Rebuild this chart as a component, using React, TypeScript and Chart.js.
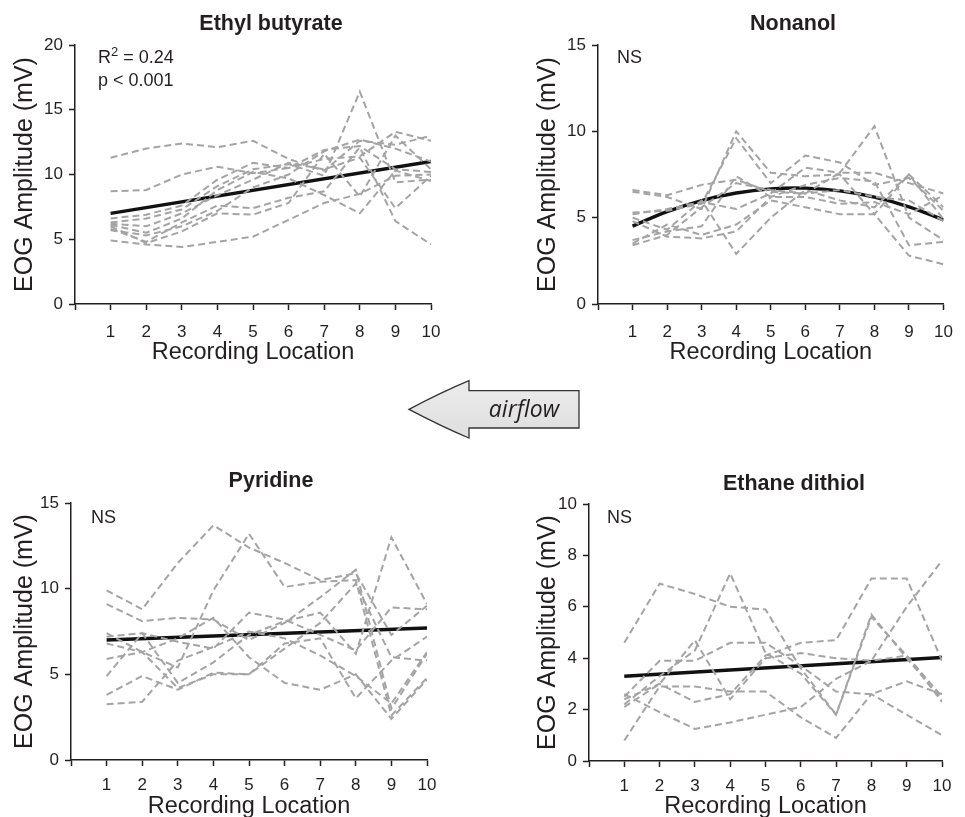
import React, { useEffect, useRef } from "react";
import { Chart, registerables } from "chart.js";

Chart.register(...registerables);

// ---------- data ----------
const LOCATIONS = [1, 2, 3, 4, 5, 6, 7, 8, 9, 10];
const X_TICKS = [0, 1, 2, 3, 4, 5, 6, 7, 8, 9, 10];
const X_TICK_LABELS = ["", "1", "2", "3", "4", "5", "6", "7", "8", "9", "10"];
const FIT_ENDS = [1, 10];

const ETHYL_Y_TICKS = [0, 5, 10, 15, 20];
const NONANOL_Y_TICKS = [0, 5, 10, 15];
const PYRIDINE_Y_TICKS = [0, 5, 10, 15];
const DITHIOL_Y_TICKS = [0, 2, 4, 6, 8, 10];

const ETHYL_BUTYRATE_RUNS = [
  [11.3, 12.0, 12.4, 12.1, 12.6, 11.2, 10.3, 12.6, 12.3, 13.0],
  [8.7, 8.8, 10.0, 10.6, 10.1, 10.5, 11.9, 12.2, 10.4, 10.2],
  [6.6, 6.9, 7.6, 9.6, 10.9, 10.5, 11.2, 11.4, 13.3, 12.6],
  [6.3, 6.6, 7.3, 9.1, 10.4, 10.8, 9.9, 16.4, 9.4, 9.6],
  [5.8, 4.8, 6.3, 7.6, 7.4, 8.2, 8.7, 12.1, 6.4, 4.6],
  [6.0, 4.7, 5.6, 7.0, 6.9, 7.8, 11.6, 8.3, 13.0, 10.4],
  [4.9, 4.6, 4.4, 4.8, 5.2, 6.5, 7.8, 8.5, 9.9, 10.0],
  [6.2, 6.0, 7.0, 8.4, 9.6, 10.9, 10.4, 11.3, 7.4, 9.9],
  [6.1, 5.5, 6.6, 8.8, 10.2, 9.7, 8.4, 7.0, 10.3, 9.5],
  [5.7, 5.3, 6.0, 7.2, 9.0, 10.0, 11.8, 12.7, 12.0, 11.0],
];
const ETHYL_BUTYRATE_FIT = [7.0, 11.0];

const NONANOL_RUNS = [
  [6.6, 6.3, 6.9, 7.2, 6.5, 6.4, 7.6, 7.6, 7.0, 6.4],
  [6.5, 6.2, 5.5, 10.0, 7.6, 7.4, 7.5, 5.2, 7.5, 5.6],
  [5.3, 5.4, 5.8, 9.6, 7.0, 8.6, 8.2, 6.9, 7.3, 5.4],
  [5.2, 5.5, 5.9, 5.5, 6.4, 7.9, 7.6, 10.3, 5.0, 3.7],
  [5.0, 4.3, 6.0, 2.9, 5.0, 6.6, 6.0, 5.6, 7.5, 4.9],
  [4.8, 3.9, 3.8, 4.2, 6.2, 6.9, 7.3, 7.1, 3.4, 3.6],
  [3.7, 4.2, 4.5, 7.4, 6.2, 6.2, 5.8, 5.9, 5.2, 6.3],
  [3.5, 4.6, 4.0, 4.6, 6.0, 5.6, 5.2, 5.2, 2.8, 2.3],
  [3.4, 4.0, 5.6, 7.0, 6.6, 6.4, 6.6, 6.2, 6.0, 4.8],
];
const NONANOL_FIT = [4.51, 5.35, 5.99, 6.43, 6.67, 6.71, 6.55, 6.19, 5.63, 4.87];

const PYRIDINE_RUNS = [
  [9.9, 8.8, 11.5, 13.7, 12.4, 11.5, 10.5, 10.9, 7.3, 9.0],
  [7.4, 6.3, 5.4, 9.9, 13.2, 10.1, 10.4, 10.5, 2.6, 4.8],
  [9.1, 8.1, 8.3, 8.2, 7.0, 8.0, 9.5, 11.1, 3.0, 6.2],
  [7.2, 7.4, 6.9, 6.5, 8.6, 8.2, 7.3, 6.4, 8.9, 8.8],
  [6.8, 6.3, 7.1, 8.3, 6.0, 4.5, 4.1, 5.0, 2.4, 4.7],
  [5.9, 6.3, 4.2, 5.0, 5.0, 6.5, 8.0, 10.3, 6.0, 5.8],
  [4.9, 7.4, 4.5, 5.7, 7.3, 8.1, 8.6, 6.2, 13.0, 9.1],
  [3.8, 4.9, 4.1, 5.1, 5.0, 6.8, 7.1, 3.6, 5.8, 7.2],
  [3.25, 3.4, 5.8, 6.6, 7.5, 7.1, 6.1, 4.9, 3.3, 6.3],
];
const PYRIDINE_FIT = [7.0, 7.7];

const DITHIOL_RUNS = [
  [4.6, 6.9, 6.5, 6.0, 5.9, 3.6, 1.8, 5.6, 4.1, 2.5],
  [2.1, 3.0, 4.7, 2.4, 4.0, 4.2, 4.0, 3.9, 6.0, 7.8],
  [2.2, 3.3, 4.3, 7.3, 4.2, 3.4, 1.8, 5.7, 4.0, 2.4],
  [2.5, 3.9, 3.9, 4.6, 4.6, 3.7, 2.7, 2.6, 3.1, 2.6],
  [2.4, 3.0, 2.3, 2.6, 4.1, 4.6, 4.7, 7.1, 7.1, 3.9],
  [0.8, 2.9, 2.9, 2.7, 2.7, 1.7, 0.9, 2.6, 1.8, 1.0],
  [2.6, 1.9, 1.25, 1.5, 1.8, 2.1, 3.2, 3.9, 4.1, 2.3],
];
const DITHIOL_FIT = [3.3, 4.03];

// ---------- style ----------
const INK = "#231f20";
const GRAY = "#a4a4a4";
const FONT = "'Liberation Sans', Arial, Helvetica, sans-serif";

type PanelProps = {
  left: number;
  top: number;
  width: number;
  height: number;
  pad: { top: number; right: number; bottom: number; left: number };
  yWidth: number;
  xHeight: number;
  yMax: number;
  yTicks: number[];
  runs: number[][];
  fitX: number[];
  fitY: number[];
  fitTension: number;
  yTitlePad: number;
  xTitlePad: number;
  xTickPad: number;
};

function Panel(p: PanelProps) {
  const ref = useRef<HTMLCanvasElement>(null);
  useEffect(() => {
    if (!ref.current) return;
    const datasets: any[] = p.runs.map((run) => ({
      data: run.map((v, i) => ({ x: LOCATIONS[i], y: v })),
      borderColor: GRAY,
      borderWidth: 2,
      borderDash: [7, 4],
      pointRadius: 0,
      tension: 0,
      fill: false,
    }));
    datasets.push({
      data: p.fitY.map((v, i) => ({ x: p.fitX[i], y: v })),
      borderColor: "#111111",
      borderWidth: 3.4,
      pointRadius: 0,
      tension: p.fitTension,
      fill: false,
    });
    const gridOpts = {
      drawOnChartArea: false,
      drawTicks: true,
      tickLength: 6,
      tickWidth: 1.5,
      tickColor: INK,
    };
    const chart = new Chart(ref.current, {
      type: "line",
      data: { datasets },
      options: {
        responsive: false,
        animation: false,
        events: [],
        layout: { padding: p.pad },
        plugins: {
          legend: { display: false },
          tooltip: { enabled: false },
          title: { display: false },
        },
        scales: {
          x: {
            type: "linear",
            min: 0,
            max: 10,
            afterBuildTicks: (s: any) => {
              s.ticks = X_TICKS.map((v) => ({ value: v }));
            },
            afterFit: (s: any) => {
              s.height = p.xHeight;
            },
            grid: gridOpts,
            border: { display: true, color: INK, width: 1.5 },
            ticks: {
              autoSkip: false,
              maxRotation: 0,
              minRotation: 0,
              padding: p.xTickPad,
              color: INK,
              font: { family: FONT, size: 17 },
              callback: (v: any) => X_TICK_LABELS[X_TICKS.indexOf(Number(v))] ?? "",
            },
            title: {
              display: true,
              text: "Recording Location",
              color: INK,
              font: { family: FONT, size: 23.5, lineHeight: 1 },
              padding: { top: 0, bottom: p.xTitlePad },
            },
          },
          y: {
            type: "linear",
            min: 0,
            max: p.yMax,
            afterBuildTicks: (s: any) => {
              s.ticks = p.yTicks.map((v) => ({ value: v }));
            },
            afterFit: (s: any) => {
              s.width = p.yWidth;
            },
            grid: gridOpts,
            border: { display: true, color: INK, width: 1.5 },
            ticks: {
              padding: 6,
              color: INK,
              font: { family: FONT, size: 17 },
            },
            title: {
              display: true,
              text: "EOG Amplitude (mV)",
              color: INK,
              font: { family: FONT, size: 25, lineHeight: 1 },
              padding: { top: p.yTitlePad, bottom: 0 },
            },
          },
        },
      } as any,
    });
    return () => chart.destroy();
  }, []);
  return (
    <canvas
      ref={ref}
      width={p.width}
      height={p.height}
      style={{
        position: "absolute",
        left: p.left,
        top: p.top,
        width: p.width,
        height: p.height,
      }}
    />
  );
}

const labelBase: React.CSSProperties = {
  position: "absolute",
  fontFamily: FONT,
  color: INK,
  lineHeight: 1,
  whiteSpace: "nowrap",
};

function Title({ x, y, text }: { x: number; y: number; text: string }) {
  return (
    <div
      style={{
        ...labelBase,
        left: x,
        top: y,
        transform: "translate(-50%, -50%)",
        fontWeight: "bold",
        fontSize: 21.5,
      }}
    >
      {text}
    </div>
  );
}

function Note({ x, y, children }: { x: number; y: number; children: React.ReactNode }) {
  return (
    <div
      style={{
        ...labelBase,
        left: x,
        top: y,
        transform: "translateY(-50%)",
        fontSize: 18,
      }}
    >
      {children}
    </div>
  );
}

export default function App() {
  return (
    <div
      style={{
        position: "absolute",
        left: 0,
        top: 0,
        width: 965,
        height: 817,
        overflow: "hidden",
        background: "#ffffff",
      }}
    >
      <Panel
        left={0}
        top={25}
        width={460}
        height={350}
        pad={{ top: 20, right: 29, bottom: 9, left: 0 }}
        yWidth={75}
        xHeight={62}
        yMax={20}
        yTicks={ETHYL_Y_TICKS}
        runs={ETHYL_BUTYRATE_RUNS}
        fitX={FIT_ENDS}
        fitY={ETHYL_BUTYRATE_FIT}
        fitTension={0}
        yTitlePad={12.5}
        xTitlePad={2}
        xTickPad={12}
      />
      <Panel
        left={523}
        top={25}
        width={442}
        height={350}
        pad={{ top: 20, right: 12, bottom: 9, left: 0 }}
        yWidth={75}
        xHeight={62}
        yMax={15}
        yTicks={NONANOL_Y_TICKS}
        runs={NONANOL_RUNS}
        fitX={LOCATIONS}
        fitY={NONANOL_FIT}
        fitTension={0.4}
        yTitlePad={12.5}
        xTitlePad={2}
        xTickPad={12}
      />
      <Panel
        left={0}
        top={483}
        width={456}
        height={350}
        pad={{ top: 20, right: 29, bottom: 11, left: 0 }}
        yWidth={71}
        xHeight={62}
        yMax={15}
        yTicks={PYRIDINE_Y_TICKS}
        runs={PYRIDINE_RUNS}
        fitX={FIT_ENDS}
        fitY={PYRIDINE_FIT}
        fitTension={0}
        yTitlePad={12.5}
        xTitlePad={4}
        xTickPad={9}
      />
      <Panel
        left={514}
        top={485}
        width={448}
        height={350}
        pad={{ top: 19, right: 20, bottom: 12, left: 0 }}
        yWidth={75}
        xHeight={62}
        yMax={10}
        yTicks={DITHIOL_Y_TICKS}
        runs={DITHIOL_RUNS}
        fitX={FIT_ENDS}
        fitY={DITHIOL_FIT}
        fitTension={0}
        yTitlePad={21.5}
        xTitlePad={5}
        xTickPad={9}
      />

      <Title x={271} y={24} text="Ethyl butyrate" />
      <Title x={793} y={24} text="Nonanol" />
      <Title x={271} y={481} text="Pyridine" />
      <Title x={794} y={484} text="Ethane dithiol" />

      <Note x={98} y={57}>
        R
        <span style={{ fontSize: 13, position: "relative", top: -7 }}>2</span>
        {" = 0.24"}
      </Note>
      <Note x={98} y={80}>p &lt; 0.001</Note>
      <Note x={617} y={57}>NS</Note>
      <Note x={91} y={517}>NS</Note>
      <Note x={607} y={517}>NS</Note>

      <svg
        width={965}
        height={817}
        style={{ position: "absolute", left: 0, top: 0, pointerEvents: "none" }}
      >
        <defs>
          <linearGradient id="arrowFill" x1="0" y1="0" x2="0" y2="1">
            <stop offset="0" stopColor="#ececec" />
            <stop offset="1" stopColor="#dedede" />
          </linearGradient>
        </defs>
        <path
          d="M409,409.3 Q442,392 469,380.7 L469,390.7 L579,390.7 L579,428 L469,428 L469,438 Q442,426.6 409,409.3 Z"
          fill="url(#arrowFill)"
          stroke="#333333"
          strokeWidth={1.3}
          strokeLinejoin="miter"
        />
        <text
          x={524}
          y={417}
          textAnchor="middle"
          fontFamily="'Open Sans', 'DejaVu Sans', sans-serif"
          fontStyle="italic"
          fontSize={23}
          fill={INK}
        >
          airflow
        </text>
      </svg>
    </div>
  );
}
